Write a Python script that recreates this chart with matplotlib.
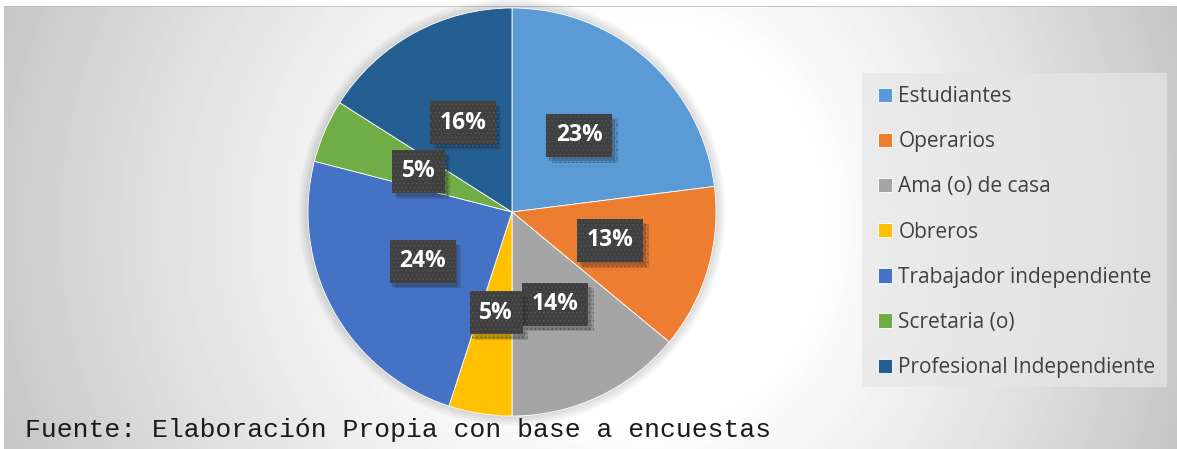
import numpy as np
import matplotlib
matplotlib.use("Agg")
import matplotlib.pyplot as plt
from matplotlib.patches import Rectangle, Circle
import matplotlib.patheffects as pe

categories = ["Estudiantes", "Operarios", "Ama (o) de casa", "Obreros",
              "Trabajador independiente", "Scretaria (o)", "Profesional Independiente"]
values = [23, 13, 14, 5, 24, 5, 16]
colors = ["#5B9BD5", "#ED7D31", "#A5A5A5", "#FFC000", "#4472C4", "#70AD47", "#255E91"]
footer = "Fuente: Elaboración Propia con base a encuestas"

W, H = 1177, 449
plt.rcParams["hatch.linewidth"] = 0.4
fig = plt.figure(figsize=(W / 100, H / 100), dpi=100)
fig.patch.set_facecolor("white")

# background gradient
bg = fig.add_axes([4 / W, 0, 1 - 4 / W, 443 / H])
bg.set_axis_off()
xs = np.arange(4, W)
ys = np.arange(6, H)
X, Y = np.meshgrid(xs, ys)
cx, cy = 650.0, 225.0
U = np.where(X < cx, (X - cx) / 650.0, (X - cx) / 525.0)
V = (Y - cy) / 600.0
D = np.sqrt(U ** 2 + V ** 2)
t = np.clip((D - 0.3) / 0.7, 0, 1.4)
B = np.clip(255 - 52 * t ** 1.2, 190, 255) / 255.0
bg.imshow(B, cmap="gray", vmin=0, vmax=1, aspect="auto",
          extent=[0, 1, 0, 1], interpolation="bilinear")
bg.set_xlim(0, 1)
bg.set_ylim(0, 1)
bg.axhline(1, color="#BEBEBE", lw=1.2)

# pie
cxp, cyp, r = 512, 212, 204
ax = fig.add_axes([(cxp - r) / W, (H - cyp - r) / H, 2 * r / W, 2 * r / H])
ax.set_axis_off()
for i in range(6):
    ax.add_patch(Circle((0, 0), 1.0 + 0.008 * (i + 1), facecolor="black",
                        alpha=0.025, lw=0, clip_on=False, zorder=0))
wedges, texts = ax.pie(values, colors=colors, startangle=90, counterclock=False,
                       radius=1, labels=[f"{v}%" for v in values], labeldistance=0.5,
                       wedgeprops=dict(edgecolor="white", linewidth=0.6),
                       textprops=dict(color="white", fontsize=16.5, fontweight="bold",
                                      family="Open Sans"))
ax.set_xlim(-1, 1)
ax.set_ylim(-1, 1)
for tx in texts:
    tx.set_ha("center")
    tx.set_va("center")
    tx.set_zorder(6)
    tx.set_bbox(dict(boxstyle="square,pad=0.42", facecolor="#404040",
                     edgecolor="#5A5A5A", linewidth=0, hatch="...."))
    tx.get_bbox_patch().set_path_effects(
        [pe.SimplePatchShadow(offset=(4, -4), shadow_rgbFace="black", alpha=0.12),
         pe.SimplePatchShadow(offset=(2, -3), shadow_rgbFace="black", alpha=0.15),
         pe.Normal()])

# legend box
fig.patches.append(Rectangle((862 / W, 1 - 387 / H), (1167 - 862) / W, (387 - 73) / H,
                             transform=fig.transFigure, facecolor="#E6E6E6", alpha=0.7,
                             edgecolor="none", zorder=1))
leg = fig.legend(wedges, categories, loc="upper left",
                 bbox_to_anchor=(878 / W, 1 - 86 / H), frameon=False,
                 prop=dict(family="Open Sans", size=15), labelcolor="#404040",
                 handlelength=0.68, handleheight=0.68, handletextpad=0.3,
                 labelspacing=1.16, borderpad=0, borderaxespad=0)
leg.set_zorder(3)

fig.text(25 / W, 12 / H, footer, family="Liberation Mono", fontsize=19,
         color="#1A1A1A", ha="left", va="baseline")

fig.savefig("out.png", dpi=100, facecolor="white")
